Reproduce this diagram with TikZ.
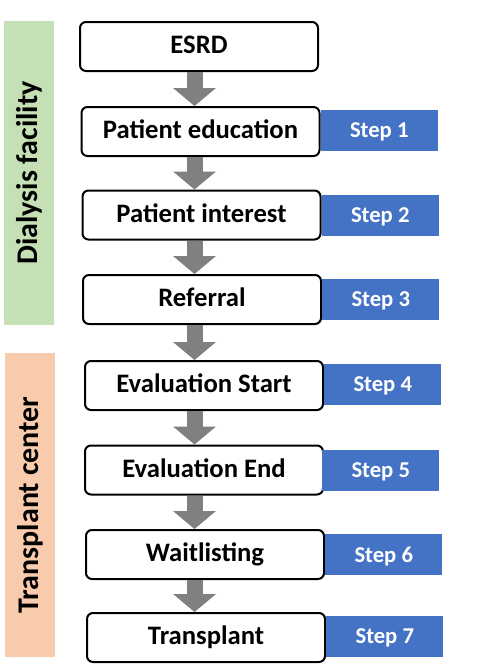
\documentclass[tikz,border=0pt]{standalone}
\usepackage{fontspec}
\setmainfont{Carlito}
\usetikzlibrary{arrows.meta, positioning}
\definecolor{facilitygreen}{HTML}{C5E0B4}
\definecolor{centerpeach}{HTML}{F8CBAD}
\definecolor{stepblue}{HTML}{4472C4}
\definecolor{flowgray}{HTML}{808080}

\begin{document}
\begin{tikzpicture}[
    x=0.75pt, y=-0.75pt,
    every node/.style={font=\bfseries},
    stage/.style={rectangle, rounded corners=4.5pt, draw=black, line width=1.5pt, fill=white,
        minimum width=178.5pt, minimum height=36.75pt, inner sep=0pt, text depth=3pt,
        font=\fontsize{20}{24}\selectfont\bfseries},
    stepbox/.style={rectangle, fill=stepblue, text=white, anchor=west,
        minimum width=87.75pt, minimum height=30.75pt, inner sep=0pt, text depth=0pt,
        font=\fontsize{17}{20}\selectfont\bfseries},
    sidebar/.style={rectangle, rotate=90, minimum width=228pt, minimum height=37.5pt,
        inner sep=0pt, font=\fontsize{22.5}{26}\selectfont\bfseries},
    flow/.style={draw=flowgray, line width=12pt,
        -{Triangle[width=32.25pt, length=13.5pt, line width=0pt]}, color=flowgray}
]
\useasboundingbox (0,0) rectangle (484,672);

% side bars
\node[sidebar, fill=facilitygreen] (dialysis) at (29,173) {Dialysis facility};
\node[sidebar, fill=centerpeach] (center) at (30,505) {Transplant center};

% stages
\node[stage] (esrd)     at (199,46.5)  {ESRD};
\node[stage] (educ)     at (200.5,131.5) {Patient education};
\node[stage] (interest) at (201.5,215) {Patient interest};
\node[stage] (referral) at (202,299.5) {Referral};
\node[stage] (evstart)  at (204,385.5) {Evaluation Start};
\node[stage] (evend)    at (204,470)   {Evaluation End};
\node[stage] (wait)     at (205,554.5) {Waitlisting};
\node[stage] (tx)       at (206,637.5) {Transplant};

% step labels
\node[stepbox] (s1) at ([yshift=0.75pt]educ.east)    {Step 1};
\node[stepbox] (s2) at (interest.east) {Step 2};
\node[stepbox] (s3) at (referral.east) {Step 3};
\node[stepbox] (s4) at ([yshift=0.75pt]evstart.east) {Step 4};
\node[stepbox] (s5) at ([xshift=-1.5pt]evend.east)   {Step 5};
\node[stepbox] (s6) at (wait.east)     {Step 6};
\node[stepbox] (s7) at ([yshift=0.75pt]tx.east)      {Step 7};

% arrows
\coordinate (ax) at (194.5,0);
\foreach \a/\b in {esrd/educ, educ/interest, interest/referral, referral/evstart,
                   evstart/evend, evend/wait, wait/tx}
    \draw[flow] (ax |- \a.south) -- (ax |- \b.north);

\end{tikzpicture}
\end{document}
